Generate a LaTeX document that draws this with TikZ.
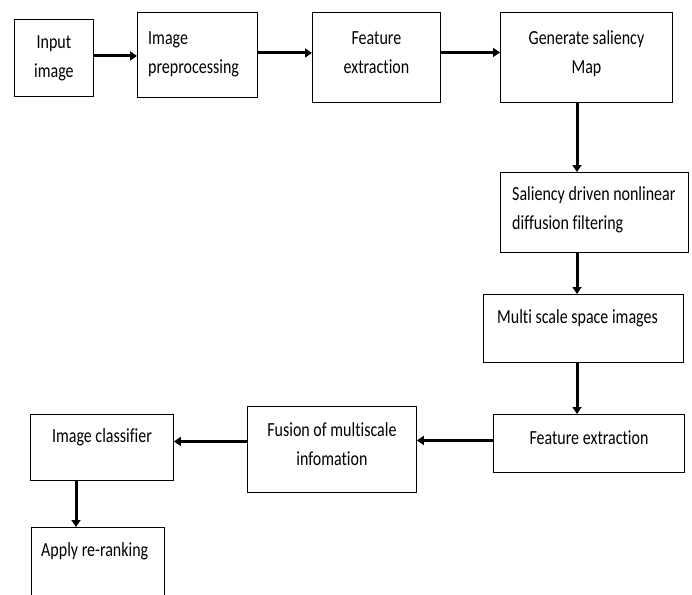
\documentclass[tikz,border=0pt]{standalone}
\usepackage{fontspec}
\setmainfont{Carlito}[FakeStretch=0.8, Ligatures=NoCommon]
\usetikzlibrary{arrows.meta, positioning, calc}

\begin{document}
\begin{tikzpicture}[x=1pt, y=-1pt,
    block/.style={draw, line width=0.9pt, rectangle, anchor=north west, inner sep=0pt},
    blocktext/.style={inner sep=0pt, align=center, font=\fontsize{20}{29}\selectfont},
    flow/.style={line width=3pt, -{Triangle[length=7pt, width=9pt]}}]
    \clip (0,0) rectangle (692,594);

    % top row
    \node[block, minimum width=79, minimum height=77] (input) at (14,19) {};
    \node[blocktext] (inputtxt) at (input.center) {Input\\image};

    \node[block, minimum width=120, minimum height=85] (prep) at (137,12) {};
    \node[blocktext, align=left, anchor=west] (preptxt) at ([xshift=11pt, yshift=1pt]prep.west) {Image\\preprocessing};

    \node[block, minimum width=128, minimum height=90] (feat) at (312,12) {};
    \node[blocktext] (feattxt) at ([yshift=5pt]feat.center) {Feature\\extraction};

    \node[block, minimum width=172, minimum height=90] (gen) at (500,12) {};
    \node[blocktext] (gentxt) at ([yshift=4pt]gen.center) {Generate saliency\\Map};

    % right column
    \node[block, minimum width=188, minimum height=80] (sal) at (500,172) {};
    \node[blocktext, align=left, anchor=west] (saltxt) at ([xshift=12pt, yshift=3pt]sal.west) {Saliency driven nonlinear\\diffusion filtering};

    \node[block, minimum width=200, minimum height=68] (multi) at (483,294) {};
    \node[blocktext, anchor=west] (multitxt) at ([xshift=14pt, yshift=10pt]multi.west) {Multi scale space images};

    % bottom row
    \node[block, minimum width=191, minimum height=58] (feat2) at (493,414) {};
    \node[blocktext] (feat2txt) at ([yshift=6pt]feat2.center) {Feature extraction};

    \node[block, minimum width=169, minimum height=86] (fusion) at (247,406) {};
    \node[blocktext] (fusiontxt) at ([yshift=5pt]fusion.center) {Fusion of multiscale\\infomation};

    \node[block, minimum width=143, minimum height=66] (classify) at (30,414) {};
    \node[blocktext] (classifytxt) at ([yshift=10pt]classify.center) {Image classifier};

    \node[block, minimum width=133, minimum height=90] (rerank) at (31,527) {};
    \node[blocktext, anchor=west] (reranktxt) at (41,551) {Apply re-ranking};

    \coordinate (rightcol) at (577,0);
    \coordinate (leftcol) at (76,0);

    % connectors
    \draw[flow] ([yshift=2pt]input.east) -- ([yshift=2pt]input.east -| prep.west);
    \draw[flow] ([yshift=2pt]prep.east) -- ([yshift=2pt]prep.east -| feat.west);
    \draw[flow] ([yshift=5pt]feat.east) -- ([yshift=5pt]feat.east -| gen.west);
    \draw[flow] (gen.south -| rightcol) -- (sal.north -| rightcol);
    \draw[flow] (sal.south -| rightcol) -- (multi.north -| rightcol);
    \draw[flow] (multi.south -| rightcol) -- (feat2.north -| rightcol);
    \draw[flow] ([yshift=3pt]feat2.west) -- ([yshift=3pt]feat2.west -| fusion.east);
    \draw[flow] ([yshift=8pt]fusion.west) -- ([yshift=8pt]fusion.west -| classify.east);
    \draw[flow] (classify.south -| leftcol) -- (rerank.north -| leftcol);
\end{tikzpicture}
\end{document}
